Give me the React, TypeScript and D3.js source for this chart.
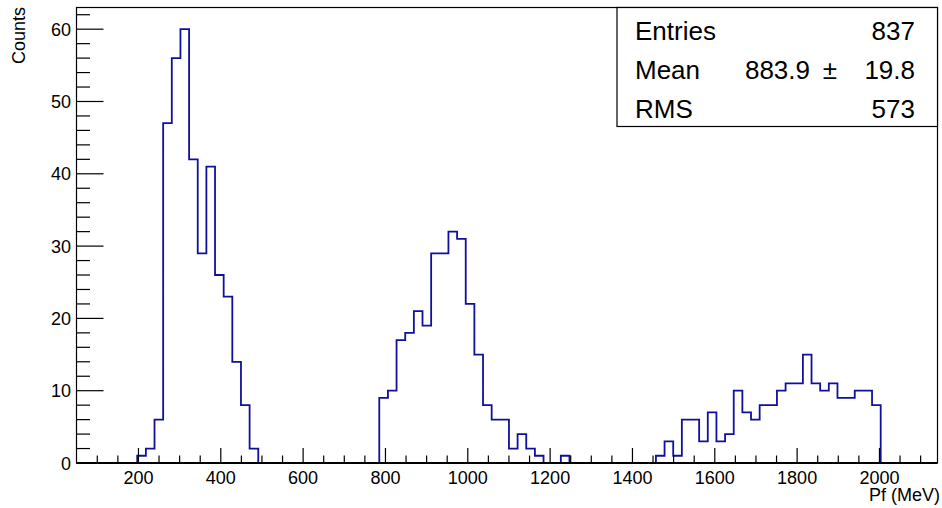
import React from 'react';
import * as d3 from 'd3';

const W = 942;
const H = 508;

// Histogram binning: 100 bins of width 21 MeV starting at 50 MeV
const BIN_LOW = 50;
const BIN_WIDTH = 21;

// Bin contents (Counts per bin), bin 0 .. bin 99
const counts: number[] = [
  0, 0, 0, 0, 0, 0, 0, 1, 2, 6,
  47, 56, 60, 42, 29, 41, 26, 23, 14, 8,
  2, 0, 0, 0, 0, 0, 0, 0, 0, 0,
  0, 0, 0, 0, 0, 9, 10, 17, 18, 21,
  19, 29, 29, 32, 31, 22, 15, 8, 6, 6,
  2, 4, 2, 1, 0, 0, 1, 0, 0, 0,
  0, 0, 0, 0, 0, 0, 0, 1, 3, 1,
  6, 6, 3, 7, 3, 4, 10, 7, 6, 8,
  8, 10, 11, 11, 15, 11, 10, 11, 9, 9,
  10, 10, 8, 0, 0, 0, 0, 0, 0, 0,
];

const xMajorTicks = [200, 400, 600, 800, 1000, 1200, 1400, 1600, 1800, 2000];
const yMajorTicks = [0, 10, 20, 30, 40, 50, 60];

const statLabels = ['Entries', 'Mean', 'RMS'];
const statValues = ['837', '883.9', '573'];
const meanError = '19.8';

const xTitle = 'Pf (MeV)';
const yTitle = 'Counts';

const FONT = '"Liberation Sans", Arial, Helvetica, sans-serif';

const frame = { left: 76.5, right: 937.5, top: 7.5, bottom: 463 };

export default function App() {
  const x = d3.scaleLinear().domain([49.5, 2141]).range([frame.left, frame.right]);
  const y = d3.scaleLinear().domain([0, 63]).range([frame.bottom, frame.top]);

  const pts: [number, number][] = [[BIN_LOW, 0]];
  counts.forEach((c, k) => {
    const e0 = BIN_LOW + k * BIN_WIDTH;
    pts.push([e0, c], [e0 + BIN_WIDTH, c]);
  });
  pts.push([BIN_LOW + counts.length * BIN_WIDTH, 0]);
  const line = d3
    .line<[number, number]>()
    .x((d) => x(d[0]))
    .y((d) => y(d[1]));

  const xMinor = d3.range(100, 2101, 50).filter((v) => v % 200 !== 0);
  const yMinor = d3.range(0, 63, 2).filter((v) => v % 10 !== 0);

  const box = { left: 617, right: frame.right, top: frame.top, bottom: 126.5 };
  const rowY = [40, 79.3, 118.3];

  return (
    <svg
      width={W}
      height={H}
      style={{ position: 'absolute', left: 0, top: 0, background: '#fff' }}
      fontFamily={FONT}
    >
      <rect x={0} y={0} width={W} height={H} fill="#fff" />
      <defs>
        <clipPath id="plotArea">
          <rect
            x={frame.left}
            y={frame.top - 2}
            width={frame.right - frame.left}
            height={frame.bottom - frame.top + 2}
          />
        </clipPath>
      </defs>

      {/* histogram outline */}
      <path
        d={line(pts) || ''}
        fill="none"
        stroke="#10109c"
        strokeWidth={1.8}
        clipPath="url(#plotArea)"
      />

      {/* frame */}
      <rect
        x={frame.left}
        y={frame.top}
        width={frame.right - frame.left}
        height={frame.bottom - frame.top}
        fill="none"
        stroke="#000"
        strokeWidth={1.2}
      />
      {/* x axis line, drawn over the zero-level outline */}
      <line x1={frame.left} x2={frame.right} y1={frame.bottom} y2={frame.bottom} stroke="#000" strokeWidth={2.2} />

      {/* x axis ticks */}
      {xMajorTicks.map((v) => (
        <line key={'xM' + v} x1={x(v)} x2={x(v)} y1={frame.bottom} y2={frame.bottom - 15} stroke="#000" strokeWidth={1.2} />
      ))}
      {xMinor.map((v) => (
        <line key={'xm' + v} x1={x(v)} x2={x(v)} y1={frame.bottom} y2={frame.bottom - 7.5} stroke="#000" strokeWidth={1.2} />
      ))}
      {xMajorTicks.map((v) => (
        <text key={'xl' + v} x={x(v)} y={483.5} fontSize={18} textAnchor="middle" fill="#000">
          {v}
        </text>
      ))}

      {/* y axis ticks */}
      {yMajorTicks.map((v) => (
        <line key={'yM' + v} x1={frame.left} x2={frame.left + 27} y1={y(v)} y2={y(v)} stroke="#000" strokeWidth={1.2} />
      ))}
      {yMinor.map((v) => (
        <line key={'ym' + v} x1={frame.left} x2={frame.left + 13.5} y1={y(v)} y2={y(v)} stroke="#000" strokeWidth={1.2} />
      ))}
      {yMajorTicks.map((v) => (
        <text key={'yl' + v} x={71} y={y(v) + 6.5} fontSize={18} textAnchor="end" fill="#000">
          {v}
        </text>
      ))}

      {/* axis titles */}
      <text x={940} y={501} fontSize={18} textAnchor="end" fill="#000">
        {xTitle}
      </text>
      <text transform="translate(25,7) rotate(-90)" fontSize={18} textAnchor="end" fill="#000">
        {yTitle}
      </text>

      {/* statistics box */}
      <rect
        x={box.left}
        y={box.top}
        width={box.right - box.left}
        height={box.bottom - box.top}
        fill="#fff"
        stroke="#000"
        strokeWidth={1.2}
      />
      {statLabels.map((s, i) => (
        <text key={'sl' + i} x={635} y={rowY[i]} fontSize={26} fill="#000">
          {s}
        </text>
      ))}
      <text x={915} y={rowY[0]} fontSize={26} textAnchor="end" fill="#000">
        {statValues[0]}
      </text>
      <text x={810} y={rowY[1]} fontSize={26} textAnchor="end" fill="#000">
        {statValues[1]}
      </text>
      <text x={830} y={rowY[1]} fontSize={26} textAnchor="middle" fill="#000">
        ±
      </text>
      <text x={915} y={rowY[1]} fontSize={26} textAnchor="end" fill="#000">
        {meanError}
      </text>
      <text x={915} y={rowY[2]} fontSize={26} textAnchor="end" fill="#000">
        {statValues[2]}
      </text>
    </svg>
  );
}
